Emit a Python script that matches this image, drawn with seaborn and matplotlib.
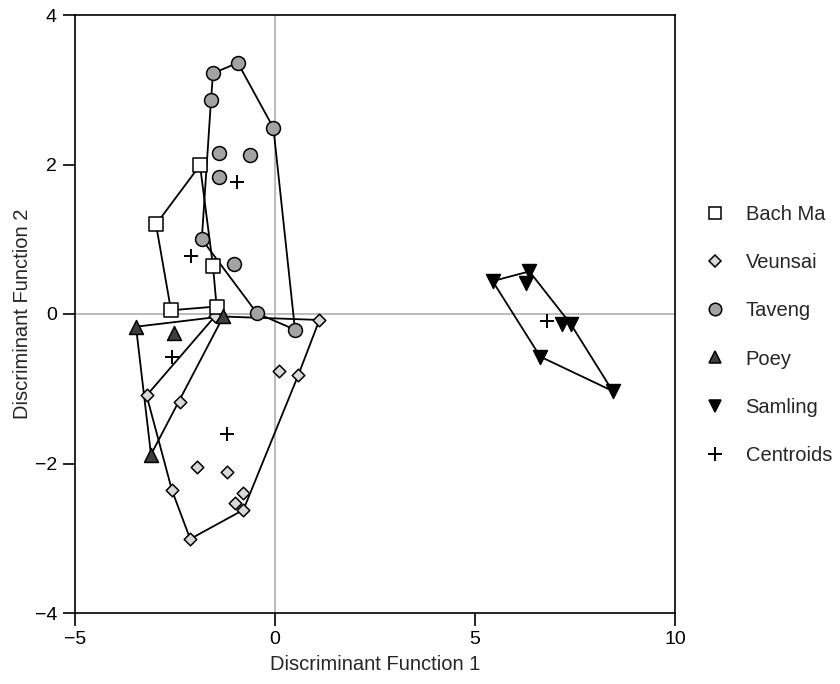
import numpy as np
import pandas as pd
import matplotlib
matplotlib.use("Agg")
import matplotlib.pyplot as plt
import seaborn as sns
from matplotlib.lines import Line2D

# ---------------- data ----------------
groups = ["Bach Ma", "Veunsai", "Taveng", "Poey", "Samling"]

bachma_x = [-1.875, -2.975, -1.55, -2.60, -1.46]
bachma_y = [1.99, 1.20, 0.64, 0.05, 0.10]

veunsai_x = [1.11, 0.11, 0.58, -3.21, -2.375, -1.95, -1.21, -2.575, -0.79, -0.99, -0.79, -2.12, -1.50]
veunsai_y = [-0.08, -0.76, -0.82, -1.09, -1.18, -2.05, -2.11, -2.36, -2.39, -2.53, -2.62, -3.01, -0.03]

taveng_x = [-0.93, -1.55, -1.60, -0.04, -1.39, -0.62, -1.39, -1.83, -1.02, -0.45, 0.50]
taveng_y = [3.36, 3.22, 2.86, 2.49, 2.16, 2.13, 1.83, 1.00, 0.67, 0.01, -0.21]

poey_x = [-3.475, -2.52, -1.29, -3.10]
poey_y = [-0.17, -0.25, -0.03, -1.88]

samling_x = [5.44, 6.36, 6.275, 7.17, 7.40, 6.63, 8.44]
samling_y = [0.44, 0.57, 0.41, -0.14, -0.14, -0.57, -1.03]

centroid_x = [-2.10, -1.21, -0.95, -2.575, 6.80]
centroid_y = [0.78, -1.60, 1.77, -0.57, -0.10]

x_ticks = [-5, 0, 5, 10]
y_ticks = [-4, -2, 0, 2, 4]
x_label = "Discriminant Function 1"
y_label = "Discriminant Function 2"

# ---------------- styling ----------------
markers = {"Bach Ma": "s", "Veunsai": "D", "Taveng": "o", "Poey": "^", "Samling": "v"}
colors = {"Bach Ma": "#ffffff", "Veunsai": "#d9d9d9", "Taveng": "#a3a3a3",
          "Poey": "#3f3f3f", "Samling": "#000000"}
msize = {"Bach Ma": 9.5, "Veunsai": 6.4, "Taveng": 10, "Poey": 10, "Samling": 10}

xs = [bachma_x, veunsai_x, taveng_x, poey_x, samling_x]
ys = [bachma_y, veunsai_y, taveng_y, poey_y, samling_y]
df = pd.concat([pd.DataFrame({"x": x, "y": y, "group": g}) for g, x, y in zip(groups, xs, ys)],
               ignore_index=True)
cent = pd.DataFrame({"x": centroid_x, "y": centroid_y})


def convex_hull(pts):
    pts = sorted(set(pts))
    def cross(o, a, b):
        return (a[0]-o[0])*(b[1]-o[1]) - (a[1]-o[1])*(b[0]-o[0])
    lower, upper = [], []
    for p in pts:
        while len(lower) >= 2 and cross(lower[-2], lower[-1], p) <= 0:
            lower.pop()
        lower.append(p)
    for p in reversed(pts):
        while len(upper) >= 2 and cross(upper[-2], upper[-1], p) <= 0:
            upper.pop()
        upper.append(p)
    h = lower[:-1] + upper[:-1]
    return h + [h[0]]


sns.set_style("ticks")
plt.rcParams["font.family"] = ["Liberation Sans", "DejaVu Sans"]

fig = plt.figure(figsize=(8.4, 6.84), dpi=100)
ax = fig.add_axes([75/840, 1-613/684, 600/840, 598/684])

ax.axhline(0, color="#b5b5b5", lw=1.3, zorder=0)
ax.axvline(0, color="#b5b5b5", lw=1.3, zorder=0)

# hulls
for g in groups:
    sub = df[df.group == g]
    hull = convex_hull(list(zip(sub.x, sub.y)))
    hx, hy = zip(*hull)
    ax.plot(hx, hy, color="black", lw=1.3, zorder=2)

# points (Veunsai first so others sit on top)
order = ["Veunsai", "Bach Ma", "Taveng", "Poey", "Samling"]
for g in order:
    sub = df[df.group == g]
    sns.scatterplot(data=sub, x="x", y="y", marker=markers[g], color=colors[g],
                    s=msize[g]**2, edgecolor="black", linewidth=1.1, ax=ax,
                    zorder=3, legend=False)

sns.scatterplot(data=cent, x="x", y="y", marker="+", color="black", s=110,
                linewidth=1.4, ax=ax, zorder=4, legend=False)

ax.set_xlim(-5, 10)
ax.set_ylim(-4, 4)
ax.set_xticks(x_ticks)
ax.set_yticks(y_ticks)
ax.set_xticklabels([str(t).replace("-", "\u2212") for t in x_ticks])
ax.set_yticklabels([str(t).replace("-", "\u2212") for t in y_ticks])
ax.tick_params(direction="out", length=9, width=1.2, labelsize=14, pad=4, colors="black")
for sp in ax.spines.values():
    sp.set_linewidth(1.2)
    sp.set_color("black")
    sp.set_visible(True)

ax.set_xlabel(x_label, fontsize=14.5, labelpad=5)
ax.set_ylabel(y_label, fontsize=14.5, labelpad=2)

handles = [Line2D([], [], ls="none", marker=markers[g], markerfacecolor=colors[g],
                  markeredgecolor="black", markeredgewidth=1.1, markersize=msize[g]*0.9)
           for g in groups]
handles.append(Line2D([], [], ls="none", marker="+", color="black",
                      markersize=10, markeredgewidth=1.4))
ax.legend(handles, groups + ["Centroids"], loc="center left",
          bbox_to_anchor=(1.037, 0.465), frameon=False, fontsize=14.5,
          labelspacing=1.45, handletextpad=1.0, handlelength=1.0, borderaxespad=0)

fig.savefig("out.png", dpi=100)
